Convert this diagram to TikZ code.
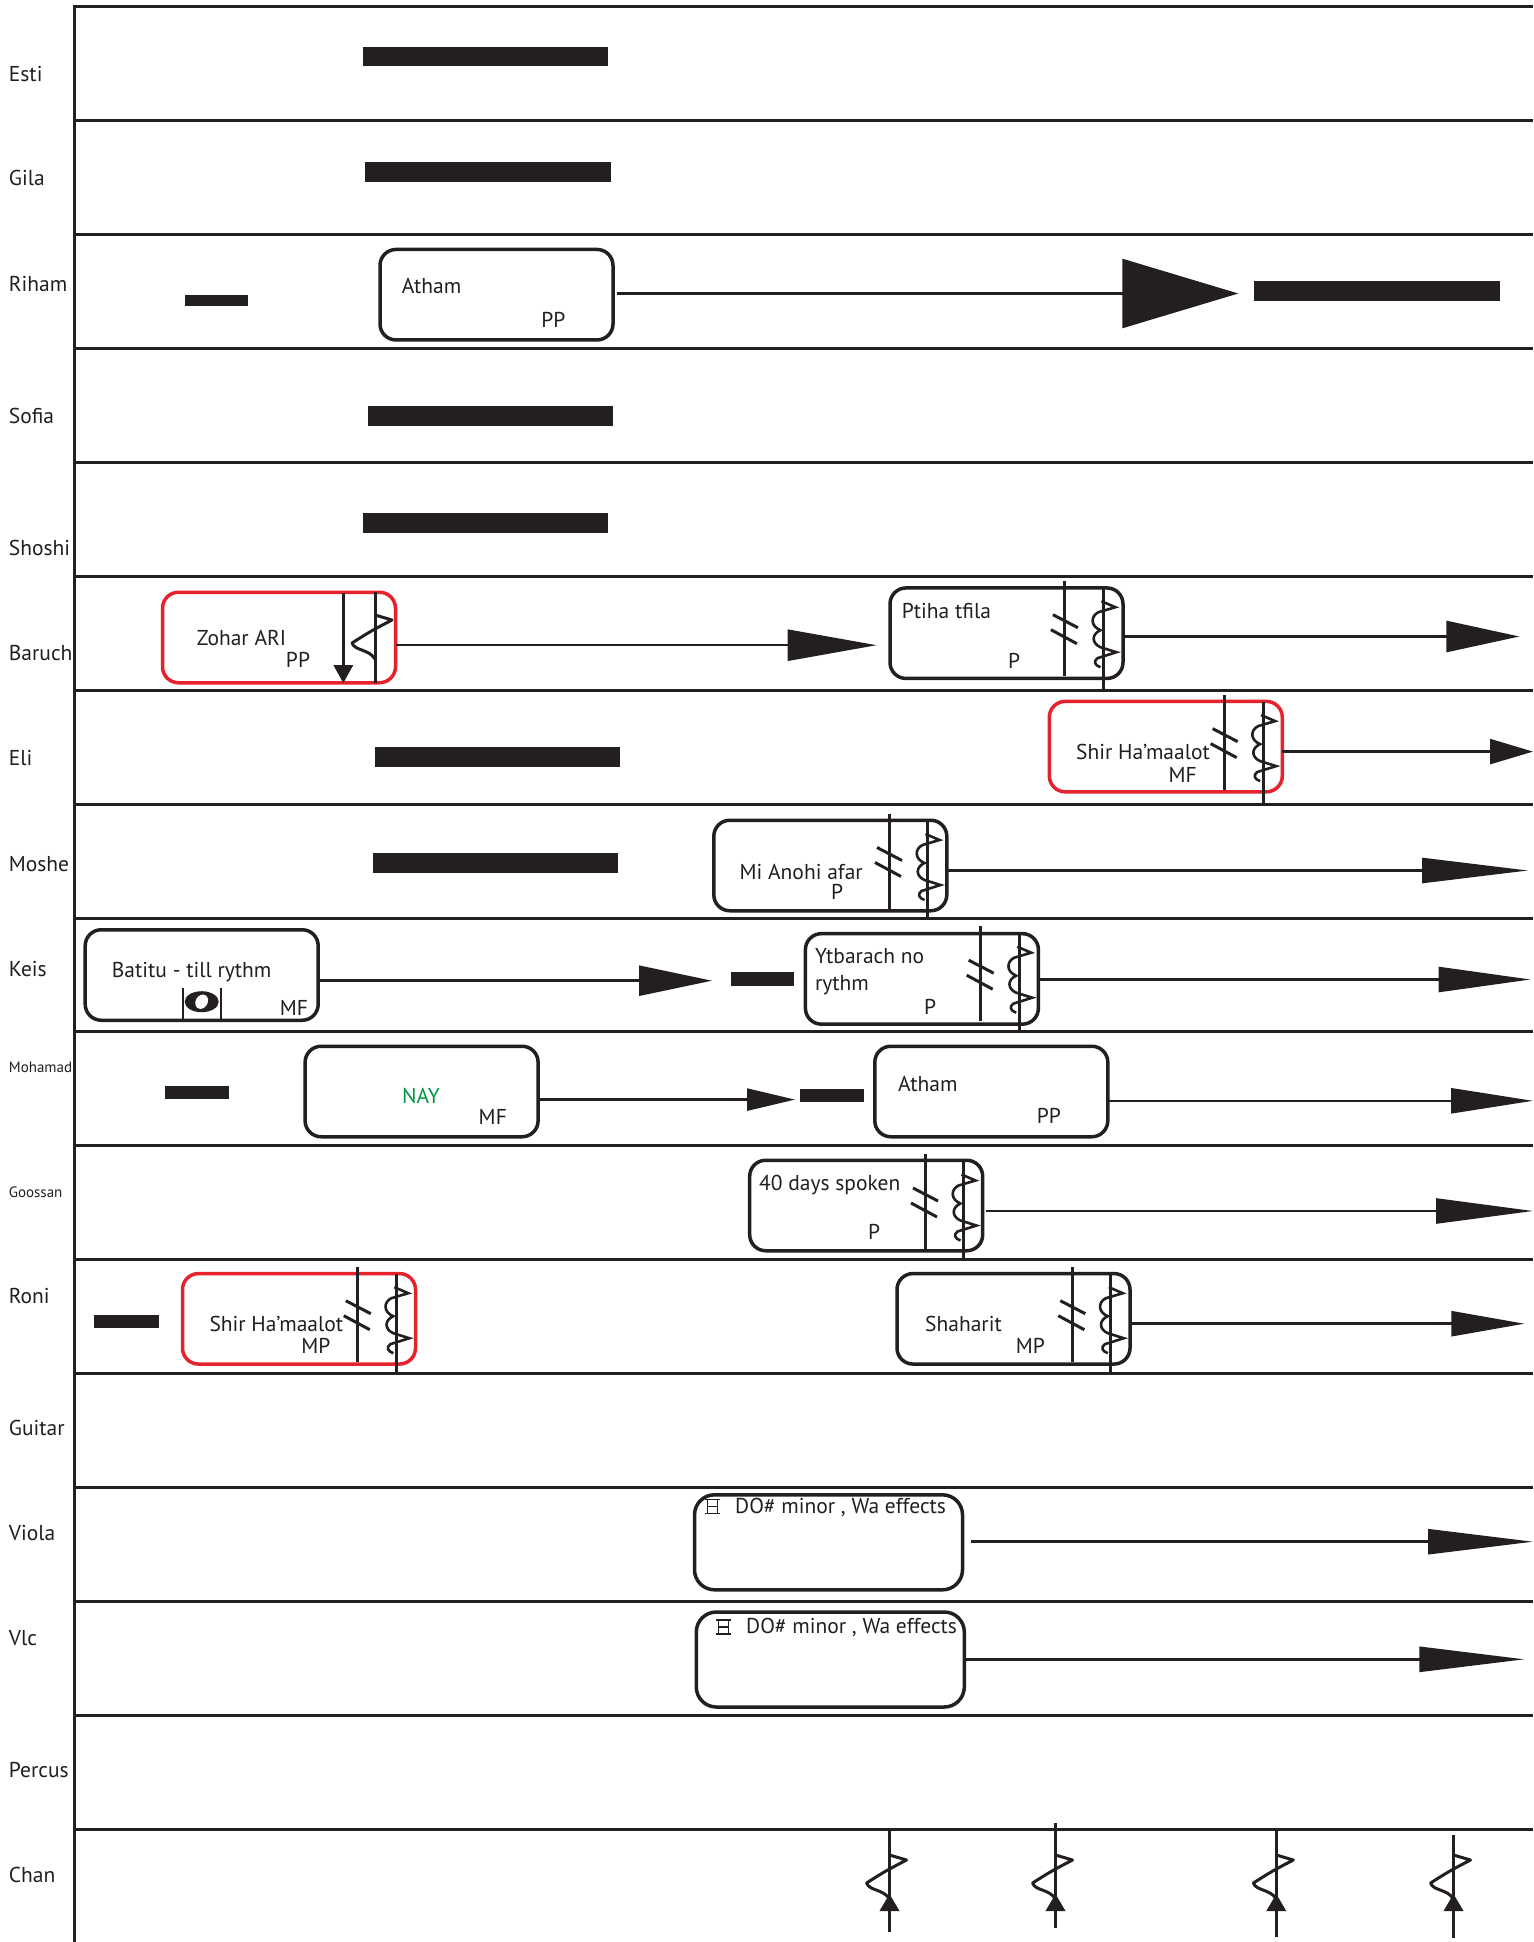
\documentclass[tikz,border=0pt]{standalone}
\usepackage{fontspec}
\setmainfont{PT Sans}
\usetikzlibrary{arrows.meta}
\definecolor{ink}{RGB}{35,31,32}
\definecolor{redline}{RGB}{230,35,45}
\definecolor{naygreen}{RGB}{0,150,70}
\tikzset{
  grid/.style={line width=3pt, draw=ink},
  box/.style={draw=ink, line width=3.5pt, rounded corners=16pt, minimum width=233pt, minimum height=90.5pt, inner sep=0pt, outer sep=0pt},
  rbox/.style={box, draw=redline},
  wbox/.style={box, rounded corners=20pt, minimum width=268pt, minimum height=95pt},
  bar/.style={fill=ink},
  lab/.style={anchor=base west, inner sep=0pt, text=ink, font=\fontsize{21.5}{24}\selectfont},
  slab/.style={lab, font=\fontsize{15}{17}\selectfont},
  txt/.style={anchor=base west, inner sep=0pt, text=ink, font=\fontsize{21.5}{24}\selectfont},
  ctxt/.style={txt, anchor=base},
  conn/.style={line width=2.5pt, draw=ink},
  sym/.style={line width=3pt, draw=ink},
  restsym/.pic={\draw[sym, line join=round] (0,0) -- (17,5) .. controls (-4,16) .. (-23,28) .. controls (-20,36) and (-6,34) .. (0,44);},
  caesura/.pic={\draw[sym] (-12,-14) -- (13,-1); \draw[sym] (-14,1) -- (12,15);},
  trillsym/.pic={\draw[sym, line width=2.6pt, line join=miter] (-2,-6) -- (12,0) -- (-5,5) .. controls (-13,9) and (-13,19) .. (-3,23) .. controls (-12,27) and (-12,36) .. (-3,40) -- (13,45) -- (-6,51) .. controls (-10,54) and (-9,58) .. (-3,60);},
  ibeam/.pic={\draw[ink, line width=1.5pt] (0,0) -- (15,0) (0,14) -- (15,14) (2.5,0) -- (2.5,14) (12.5,0) -- (12.5,14) (2.5,7) -- (12.5,7);},
  upmark/.pic={\fill[ink] (0,0) -- (-10,17) -- (10,17) -- cycle;}
}
\newcommand\dblmark[3]{%
  \draw[sym] ({#1-59.5},{#2-5}) -- ({#1-59.5},{#2+90});
  \draw[sym] ({#1-21},{#2+2}) -- ({#1-21},#3);
  \pic at ({#1-59.5},{#2+43}) {caesura};
  \pic at ({#1-21},{#2+21.5}) {trillsym};
}
\newcommand\chanmark[3]{%
  \draw[sym] (#1,#2) -- (#1,#3);
  \pic at (#1,1855) {restsym};
  \pic at (#1,1894) {upmark};
}
\begin{document}
\begin{tikzpicture}[x=1pt,y=-1pt]
\useasboundingbox (0,0) rectangle (1533,1942);
\fill[white] (0,0) rectangle (1533,1942);
% frame and rows
\draw[grid] (74,1942) -- (74,7) -- (1533,7);
\foreach \k in {1,...,16} {
  \draw[grid] (74,{7+113.875*\k}) -- (1533,{7+113.875*\k});
}
% names
\node[lab] (nEsti) at (8.7,82) {Esti};
\node[lab] (nGila) at (8.7,186) {Gila};
\node[lab] (nRiham) at (8.7,292) {Riham};
\node[lab] (nSofia) at (8.7,423) {Sofia};
\node[lab] (nShoshi) at (8.7,555) {Shoshi};
\node[lab] (nBaruch) at (8.7,660) {Baruch};
\node[lab] (nEli) at (8.7,765) {Eli};
\node[lab] (nMoshe) at (8.7,871) {Moshe};
\node[lab] (nKeis) at (8.7,976) {Keis};
\node[slab] (nMohamad) at (8.7,1072) {Mohamad};
\node[slab] (nGoossan) at (8.7,1197) {Goossan};
\node[lab] (nRoni) at (8.7,1303) {Roni};
\node[lab] (nGuitar) at (8.7,1435) {Guitar};
\node[lab] (nViola) at (8.7,1540) {Viola};
\node[lab] (nVlc) at (8.7,1645) {Vlc};
\node[lab] (nPercus) at (8.7,1777) {Percus};
\node[lab] (nChan) at (8.7,1882) {Chan};
% bars
\fill[bar] (362.8,47) rectangle (608,65.6);
\fill[bar] (365.3,162.2) rectangle (610.5,182);
\fill[bar] (184.5,294.7) rectangle (247.7,306);
\fill[bar] (1254.4,281.1) rectangle (1499.6,300.9);
\fill[bar] (367.8,406.2) rectangle (613,426);
\fill[bar] (362.8,512.7) rectangle (608,532.5);
\fill[bar] (375.2,746.7) rectangle (620.4,766.5);
\fill[bar] (372.7,853.2) rectangle (617.9,873);
\fill[bar] (730.6,972) rectangle (793.8,985.7);
\fill[bar] (164.7,1086) rectangle (229.1,1098.6);
\fill[bar] (800,1088.5) rectangle (864.3,1102.1);
\fill[bar] (94.1,1315) rectangle (158.5,1327.6);
% boxes
\node[box] (bRiham) at (496.5,294.7) {};
\node[rbox] (bZohar) at (279,637.5) {};
\node[box] (bPtiha) at (1006.5,633.2) {};
\node[rbox] (bEli) at (1165.8,746.6) {};
\node[box] (bMoshe) at (830.3,865.5) {};
\node[box] (bBatitu) at (201.7,975) {};
\node[box] (bYtb) at (921.9,978.9) {};
\node[box] (bNay) at (421.6,1091.5) {};
\node[box] (bMohAtham) at (991.3,1091.5) {};
\node[box] (bGoos) at (866.2,1205.5) {};
\node[rbox] (bRoniShir) at (299,1318.8) {};
\node[box] (bShaharit) at (1013.5,1318.8) {};
\node[wbox] (bViola) at (828.5,1542.3) {};
\node[wbox] (bVlc) at (830.3,1659.5) {};
% box texts
\node[txt] (tRiham) at (401.7,294) {Atham};
\node[ctxt] (dRiham) at (553.3,327) {PP};
\node[txt] (tZohar) at (196.7,645.5) {Zohar ARI};
\node[ctxt] (dZohar) at (298,667) {PP};
\node[txt] (tPtiha) at (901.7,618) {Ptiha tfila};
\node[ctxt] (dPtiha) at (1014,668) {P};
\node[txt] (tEli) at (1076,759) {Shir Ha’maalot};
\node[ctxt] (dEli) at (1182.6,782.5) {MF};
\node[ctxt] (tMoshe) at (801.2,879) {Mi Anohi afar};
\node[ctxt] (dMoshe) at (837,899) {P};
\node[txt] (tBatitu) at (111.7,977.7) {Batitu - till rythm};
\node[ctxt] (dBatitu) at (294,1015) {MF};
\node[txt] (tYtb) at (814.8,963.5) {Ytbarach no};
\node[txt] (tYtbb) at (814.8,990.5) {rythm};
\node[ctxt] (dYtb) at (930,1014) {P};
\node[ctxt, text=naygreen] (tNay) at (421,1103.4) {NAY};
\node[ctxt] (dNay) at (492.8,1124.5) {MF};
\node[txt] (tMohAtham) at (897.8,1091) {Atham};
\node[ctxt] (dMohAtham) at (1048.8,1123) {PP};
\node[txt] (tGoos) at (759,1190) {40 days spoken};
\node[ctxt] (dGoos) at (874.2,1239.5) {P};
\node[txt] (tRoniShir) at (209.3,1331) {Shir Ha’maalot};
\node[ctxt] (dRoniShir) at (315.8,1353.5) {MP};
\node[txt] (tShaharit) at (925,1331) {Shaharit};
\node[ctxt] (dShaharit) at (1030.3,1353.5) {MP};
\node[txt] (tViola) at (735,1513) {DO\# minor , Wa effects};
\node[txt] (tVlc) at (746,1633.3) {DO\# minor , Wa effects};
\pic at (705,1499.5) {ibeam};
\pic at (716,1620) {ibeam};
% Zohar symbols
\draw[sym] (343.3,593) -- (343.3,670);
\fill[ink] (343.3,683) -- (333.3,665) -- (353.3,665) -- cycle;
\draw[sym] (375,591.7) -- (375,683.3);
\pic at (375,615) {restsym};
% double-line marks
\dblmark{1124.4}{585.7}{689.7}
\dblmark{1284.1}{699.6}{804.9}
\dblmark{948.5}{818.5}{917.6}
\dblmark{1040.2}{931.2}{1031.5}
\dblmark{984.5}{1159}{1259.3}
\dblmark{417.3}{1271.7}{1373.3}
\dblmark{1131.8}{1271.7}{1373.3}
% Batitu symbol
\draw[ink, line width=2pt] (183.3,988.3) -- (183.3,1019.3) (220.7,988.3) -- (220.7,1019.3);
\fill[ink] (201.7,1001.7) ellipse [x radius=17, y radius=10.5];
\fill[white, rotate around={-30:(201.7,1001.7)}] (201.7,1001.7) ellipse [x radius=6, y radius=7.5];
% arrow tips
\coordinate (a1) at (1238.3,293.5);
\coordinate (a2) at (876.7,645.2);
\coordinate (a3) at (1519.4,636.5);
\coordinate (a4) at (1533,751.6);
\coordinate (a5) at (1528,870.5);
\coordinate (a6) at (712,980.7);
\coordinate (a7) at (1530.5,979.5);
\coordinate (a8) at (795,1099.6);
\coordinate (a9) at (1533,1100.8);
\coordinate (a10) at (1533,1211);
\coordinate (a11) at (1524.4,1323.7);
\coordinate (a12) at (1533,1541.7);
\coordinate (a13) at (1524.4,1659.3);
\draw[conn, -{Triangle[length=116pt, width=69pt]}] ([xshift=4pt]bRiham.east |- a1) -- (a1);
\draw[conn, -{Triangle[length=89pt, width=31pt]}] (bZohar.east |- a2) -- (a2);
\draw[conn, -{Triangle[length=73pt, width=31pt]}] (bPtiha.east |- a3) -- (a3);
\draw[conn, -{Triangle[length=43pt, width=25pt]}] (bEli.east |- a4) -- (a4);
\draw[conn, -{Triangle[length=106pt, width=25pt]}] (bMoshe.east |- a5) -- (a5);
\draw[conn, -{Triangle[length=73pt, width=30pt]}] (bBatitu.east |- a6) -- (a6);
\draw[conn, -{Triangle[length=92pt, width=25pt]}] (bYtb.east |- a7) -- (a7);
\draw[conn, -{Triangle[length=48pt, width=22pt]}] (bNay.east |- a8) -- (a8);
\draw[conn, -{Triangle[length=82pt, width=25pt]}] (bMohAtham.east |- a9) -- (a9);
\draw[conn, -{Triangle[length=97pt, width=25pt]}] ([xshift=3pt]bGoos.east |- a10) -- (a10);
\draw[conn, -{Triangle[length=73pt, width=25pt]}] (bShaharit.east |- a11) -- (a11);
\draw[conn, -{Triangle[length=105pt, width=25pt]}] ([xshift=8pt]bViola.east |- a12) -- (a12);
\draw[conn, -{Triangle[length=105pt, width=25pt]}] (bVlc.east |- a13) -- (a13);
% Chan marks
\chanmark{889.5}{1828}{1932}
\chanmark{1055.5}{1823}{1928}
\chanmark{1276.3}{1830}{1937}
\chanmark{1453.5}{1835}{1938}
\end{tikzpicture}
\end{document}
